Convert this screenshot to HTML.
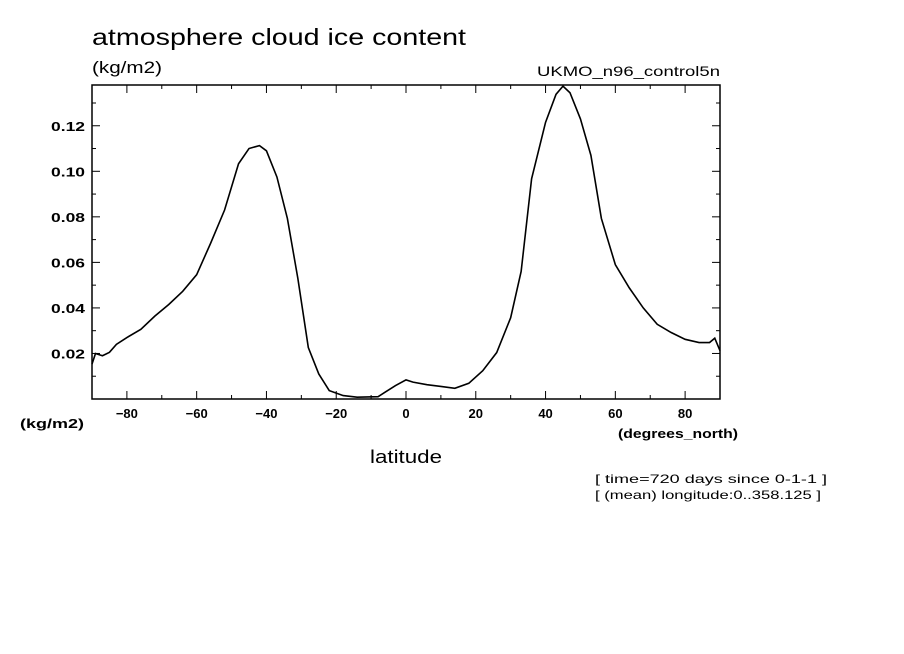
<!DOCTYPE html>
<html><head><meta charset="utf-8"><style>
body{margin:0;background:#fff}
svg{display:block;font-family:"Liberation Sans",sans-serif}
</style></head><body>
<svg width="904" height="654" viewBox="0 0 904 654" xmlns="http://www.w3.org/2000/svg">
<text x="92" y="45" font-size="23" textLength="374" lengthAdjust="spacingAndGlyphs">atmosphere cloud ice content</text>
<text x="92" y="73" font-size="17" textLength="70" lengthAdjust="spacingAndGlyphs">(kg/m2)</text>
<text x="537" y="76" font-size="14" textLength="183" lengthAdjust="spacingAndGlyphs">UKMO_n96_control5n</text>
<text x="20" y="428" font-size="13" font-weight="bold" textLength="64" lengthAdjust="spacingAndGlyphs">(kg/m2)</text>
<text x="618" y="438" font-size="13" font-weight="bold" textLength="120" lengthAdjust="spacingAndGlyphs">(degrees_north)</text>
<text x="370" y="463" font-size="18" textLength="72" lengthAdjust="spacingAndGlyphs">latitude</text>
<text x="595" y="483" font-size="12" textLength="232" lengthAdjust="spacingAndGlyphs">[ time=720 days since 0-1-1 ]</text>
<text x="595" y="499" font-size="12" textLength="226" lengthAdjust="spacingAndGlyphs">[ (mean) longitude:0..358.125 ]</text>
<g id="axes"></g>
<rect x="92" y="85" width="628" height="314" fill="none" stroke="#000" stroke-width="1.5"/>
</svg>
<script>
const lats=[-90,-89,-87,-85,-83,-80,-76,-72,-68,-64,-60,-56,-52,-48,-45,-42,-40,-37,-34,-31,-28,-25,-22,-18,-14,-8,-6,-3,0,2,6,10,14,18,22,26,30,33,36,40,43,45,47,50,53,56,60,64,68,72,76,80,84,87,88.5,90];
const iceValues=[0.0153,0.020,0.019,0.0205,0.024,0.027,0.0306,0.0364,0.0415,0.0473,0.0546,0.0684,0.083,0.1033,0.110,0.1113,0.109,0.0975,0.0793,0.053,0.0226,0.011,0.0037,0.0015,0.0008,0.001,0.003,0.0059,0.0084,0.0074,0.0063,0.0055,0.0047,0.0069,0.0124,0.0204,0.0357,0.056,0.0967,0.1215,0.1338,0.1374,0.1345,0.123,0.107,0.0793,0.059,0.0488,0.040,0.0328,0.0292,0.0262,0.0248,0.0248,0.0267,0.0212];
const xTicks=[-80,-60,-40,-20,0,20,40,60,80];
const yTicks=[0.02,0.04,0.06,0.08,0.10,0.12];
const yTickLabels=["0.02","0.04","0.06","0.08","0.10","0.12"];
const L=92,R=720,T=85,B=399,xMin=-90,xMax=90,yMin=0,yMax=0.1379;
const xs=v=>L+(v-xMin)/(xMax-xMin)*(R-L);
const ys=v=>B-(v-yMin)/(yMax-yMin)*(B-T);
const ns="http://www.w3.org/2000/svg",g=document.getElementById('axes');
function mk(t,a){const e=document.createElementNS(ns,t);for(const k in a)e.setAttribute(k,a[k]);g.appendChild(e);return e;}
for(let v=-80;v<=80;v+=10){const maj=v%20===0,len=maj?8:4,x=xs(v);
const t1=mk('line',{x1:x,x2:x,y1:B,y2:B-len,stroke:'#000'});


const t2=mk('line',{x1:x,x2:x,y1:T,y2:T+len,stroke:'#000'});

}
xTicks.forEach(v=>{const t=mk('text',{x:xs(v),y:B+19,'font-size':13,'font-weight':'bold','text-anchor':'middle'});t.textContent=(v<0?'\u2212':'')+Math.abs(v);

});
for(let i=1;i<=13;i++){const v=i*0.01,maj=i%2===0,len=maj?8:4,y=ys(v);
const t1=mk('line',{x1:L,x2:L+len,y1:y,y2:y,stroke:'#000'});


const t2=mk('line',{x1:R,x2:R-len,y1:y,y2:y,stroke:'#000'});

}
yTicks.forEach((v,i)=>{const t=mk('text',{x:L-7,y:ys(v)+5,'font-size':13,'font-weight':'bold','text-anchor':'end',textLength:34,lengthAdjust:'spacingAndGlyphs'});t.textContent=yTickLabels[i];

});
const p=mk('polyline',{points:lats.map((la,i)=>xs(la)+','+ys(iceValues[i])).join(' '),fill:'none',stroke:'#000','stroke-width':1.6});


</script>
</body></html>
